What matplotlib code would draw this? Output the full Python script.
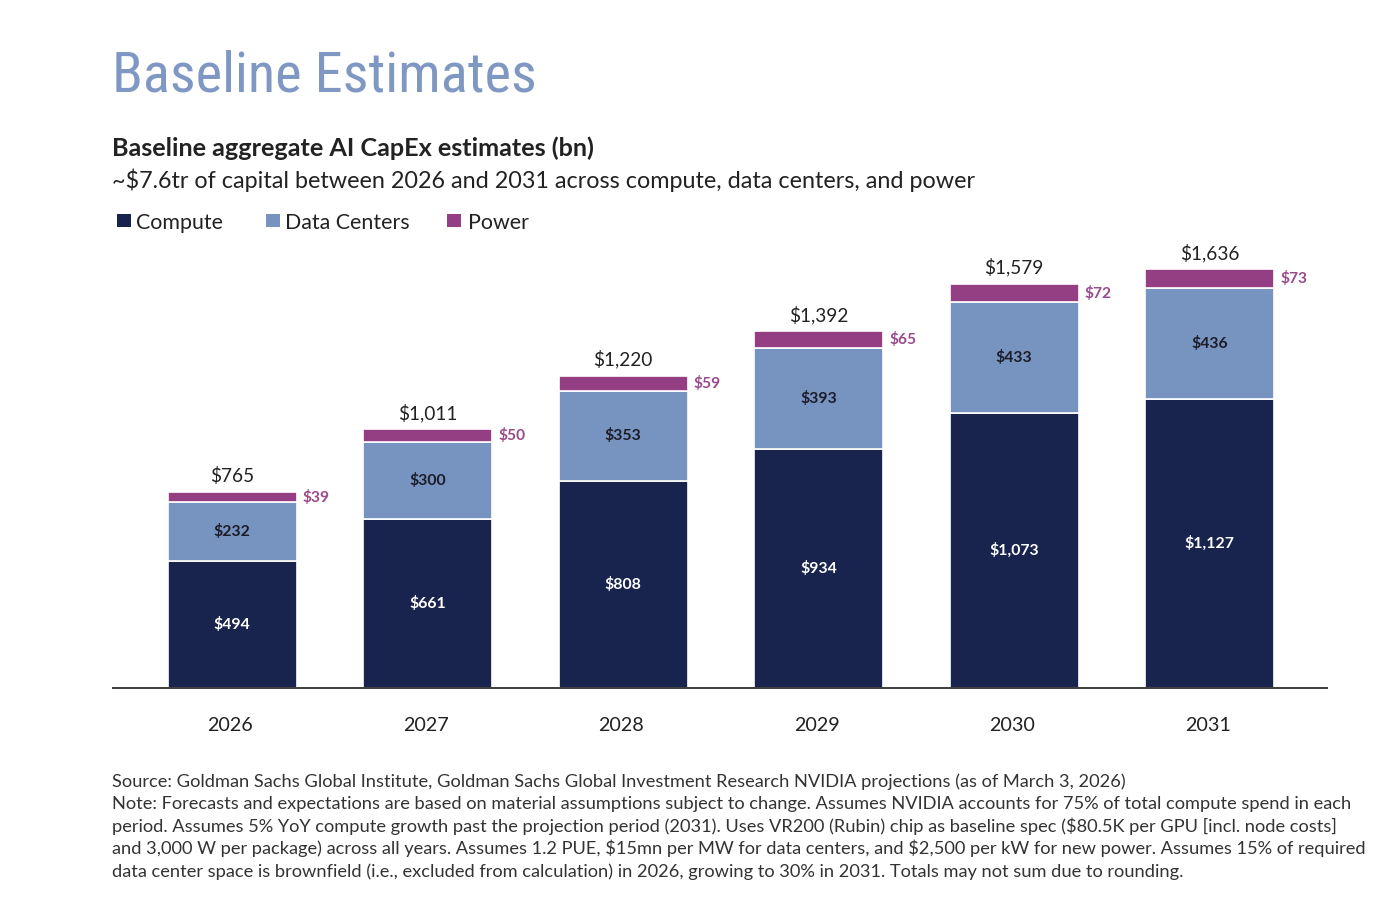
import matplotlib
matplotlib.use('Agg')
import matplotlib.pyplot as plt
from matplotlib.patches import Rectangle
import numpy as np

# ---------------- data ----------------
years = ['2026', '2027', '2028', '2029', '2030', '2031']
compute = [494, 661, 808, 934, 1073, 1127]
data_centers = [232, 300, 353, 393, 433, 436]
power = [39, 50, 59, 65, 72, 73]
totals = [765, 1011, 1220, 1392, 1579, 1636]
series_names = ['Compute', 'Data Centers', 'Power']

page_title = 'Baseline Estimates'
chart_title = 'Baseline aggregate AI CapEx estimates (bn)'
subtitle = '~$7.6tr of capital between 2026 and 2031 across compute, data centers, and power'
footnotes = [
    'Source: Goldman Sachs Global Institute, Goldman Sachs Global Investment Research NVIDIA projections (as of March 3, 2026)',
    'Note: Forecasts and expectations are based on material assumptions subject to change. Assumes NVIDIA accounts for 75% of total compute spend in each',
    'period. Assumes 5% YoY compute growth past the projection period (2031). Uses VR200 (Rubin) chip as baseline spec ($80.5K per GPU [incl. node costs]',
    'and 3,000 W per package) across all years. Assumes 1.2 PUE, $15mn per MW for data centers, and $2,500 per kW for new power. Assumes 15% of required',
    'data center space is brownfield (i.e., excluded from calculation) in 2026, growing to 30% in 2031. Totals may not sum due to rounding.',
]

# ---------------- style ----------------
C_COMPUTE = '#18244d'
C_DC = '#7793c0'
C_POWER = '#943f84'
C_POWER_TXT = '#9a4a8b'
C_TITLE = '#7f98c3'
C_TEXT = '#222222'
BODY = ['Lato', 'DejaVu Sans']
TITLE_FONT = ['Roboto Condensed', 'Liberation Sans Narrow', 'Lato', 'DejaVu Sans']

W, H = 1400, 900
fig = plt.figure(figsize=(14, 9), dpi=100)
fig.patch.set_facecolor('white')
renderer = fig.canvas.get_renderer()


def fy(y):
    return 1 - y / H


def text_width(s, size, **kw):
    t = fig.text(0, 0, s, fontsize=size, parse_math=False, **kw)
    w = t.get_window_extent(renderer).width
    t.remove()
    return w


def fit_size(s, width_px, **kw):
    return 10 * width_px / text_width(s, 10, **kw)


def ftext(x, y, s, size, **kw):
    return fig.text(x / W, fy(y), s, fontsize=size, parse_math=False, **kw)


# Titles
s = fit_size(page_title, 420, family=TITLE_FONT)
ftext(112, 92, page_title, s, family=TITLE_FONT, color=C_TITLE, va='baseline')

s = fit_size(chart_title, 484, family=BODY, weight='bold')
ftext(112, 156, chart_title, s, family=BODY, weight='bold', color=C_TEXT, va='baseline')

s = fit_size(subtitle, 863, family=BODY)
ftext(112, 188, subtitle, s, family=BODY, color=C_TEXT, va='baseline')

# Legend
leg_size = fit_size('Compute', 87, family=BODY)
leg_items = [(117, 136, C_COMPUTE), (266, 285, C_DC), (447, 468, C_POWER)]
for (sq_x, tx, col), name in zip(leg_items, series_names):
    fig.patches.append(Rectangle((sq_x / W, fy(227)), 14 / W, 13 / H,
                                 transform=fig.transFigure, facecolor=col,
                                 edgecolor='none'))
    ftext(tx, 229, name, leg_size, family=BODY, color=C_TEXT, va='baseline')

# Footnotes: one common size fitted to the combined width of all lines
ref_total = 1013 + 1249 + 1228 + 1240 + 1070
cur_total = sum(text_width(l, 10, family=BODY) for l in footnotes)
fn_size = 10 * ref_total / cur_total
for i, line in enumerate(footnotes):
    ftext(112, 786.5 + i * 22.6, line, fn_size, family=BODY, color='#333333', va='baseline')

# ---------------- chart ----------------
ax = fig.add_axes([113 / W, fy(688), (1327 - 113) / W, (688 - 250) / H])
x = np.arange(len(years))
bw = 0.66
compute_a = np.array(compute)
dc_a = np.array(data_centers)
power_a = np.array(power)

ax.bar(x, compute_a, bw, color=C_COMPUTE, edgecolor='white', linewidth=1.2, zorder=2)
ax.bar(x, dc_a, bw, bottom=compute_a, color=C_DC, edgecolor='white', linewidth=1.2, zorder=2)
ax.bar(x, power_a, bw, bottom=compute_a + dc_a, color=C_POWER, edgecolor='white', linewidth=1.2, zorder=2)

ax.set_xlim(-0.61, 5.60)
ax.set_ylim(0, 1710)
for sp in ['top', 'right', 'left']:
    ax.spines[sp].set_visible(False)
ax.spines['bottom'].set_color('#3c3c3c')
ax.spines['bottom'].set_linewidth(1.4)
ax.spines['bottom'].set_zorder(3)
ax.set_yticks([])
ax.set_xticks([])

tot_size = fit_size('$765', 44, family=BODY)
in_size = fit_size('$232', 37, family=BODY, weight='bold')
pw_size = fit_size('$39', 27, family=BODY, weight='bold')
yr_size = fit_size('2026', 46, family=BODY)

for i in range(len(years)):
    top = compute[i] + data_centers[i] + power[i]
    ax.annotate(f'${totals[i]:,}', (x[i], top), xytext=(0, 10), textcoords='offset pixels',
                ha='center', va='baseline', fontsize=tot_size, family=BODY, color=C_TEXT,
                parse_math=False)
    ax.annotate(f'${power[i]:,}', (x[i] + bw / 2, compute[i] + data_centers[i] + power[i] / 2),
                xytext=(6, 0), textcoords='offset pixels', ha='left', va='center',
                fontsize=pw_size, family=BODY, weight='bold', color=C_POWER_TXT, parse_math=False)
    ax.text(x[i], compute[i] + data_centers[i] / 2, f'${data_centers[i]:,}', ha='center', va='center',
            fontsize=in_size, family=BODY, weight='bold', color='#1c1c28', parse_math=False, zorder=4)
    ax.text(x[i], compute[i] / 2, f'${compute[i]:,}', ha='center', va='center',
            fontsize=in_size, family=BODY, weight='bold', color='white', parse_math=False, zorder=4)
    ax.annotate(years[i], (x[i], 0), xycoords=('data', 'axes fraction'), xytext=(-2, -43),
                textcoords='offset pixels', ha='center', va='baseline', fontsize=yr_size,
                family=BODY, color=C_TEXT)

fig.savefig('out.png', dpi=100, facecolor='white')
